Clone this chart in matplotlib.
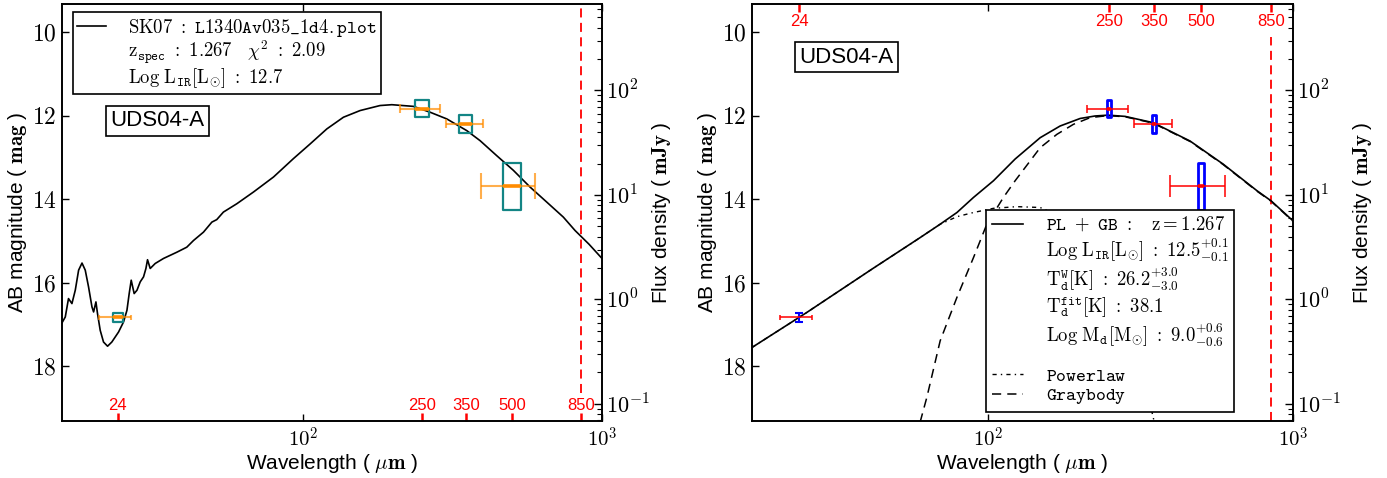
import numpy as np
import matplotlib
matplotlib.use('Agg')
import matplotlib.pyplot as plt
from matplotlib.patches import Rectangle
from matplotlib.lines import Line2D
from matplotlib.ticker import FuncFormatter, NullLocator, NullFormatter, LogLocator

plt.rcParams['font.family'] = ['Liberation Sans', 'DejaVu Sans']
plt.rcParams['mathtext.fontset'] = 'cm'
plt.rcParams['axes.linewidth'] = 1.2

# ---------------- data ----------------
band_wave = [24, 250, 350, 500, 850]
band_labels = ['24', '250', '350', '500', '850']

phot_wave = [24, 250, 350, 500]
phot_mag = [16.83, 11.84, 12.19, 13.69]
phot_mag_bright = [16.72, 11.63, 11.98, 13.13]
phot_mag_faint = [16.95, 12.03, 12.41, 14.27]
phot_wave_lo = [20.8, 211, 300, 394]
phot_wave_hi = [26.5, 287, 400, 597]

# SK07 template (left panel)
sk07_wave = [15.6, 16.0, 16.4, 16.84, 17.28, 17.73, 18.2, 18.66, 19.14, 19.65, 19.9,
             20.26, 20.51, 20.94, 21.48, 22.16, 22.9, 24.12, 25.06, 25.73, 26.18,
             26.59, 27.2, 27.8, 28.5, 29.24, 29.78, 30.15, 30.78, 31.99, 34.1, 37.8,
             40.8, 42.97, 46.4, 49.5, 51.4, 54.1, 60.0, 68.2, 79.6, 92.8, 105.5, 120.0,
             136.4, 155.1, 180.9, 198.0, 233.8, 265.9, 302.4, 352.7, 390.8, 444.4,
             505.0, 574.3, 653.1, 742.3, 812.3, 905, 1000]
sk07_mag = [16.96, 16.82, 16.38, 16.50, 16.18, 15.70, 15.53, 15.70, 16.10, 16.58, 16.70,
            16.46, 16.74, 17.14, 17.42, 17.52, 17.42, 17.18, 16.94, 16.66, 16.26,
            15.94, 16.26, 16.18, 15.98, 15.86, 15.66, 15.45, 15.66, 15.54, 15.42, 15.27,
            15.15, 14.99, 14.79, 14.55, 14.49, 14.31, 14.11, 13.83, 13.47, 13.03, 12.68, 12.32,
            12.04, 11.88, 11.76, 11.74, 11.78, 11.92, 12.08, 12.36, 12.60, 12.96,
            13.31, 13.71, 14.07, 14.43, 14.75, 15.08, 15.42]

# PL + GB fit (right panel)
fit_wave = [16.8, 25.44, 42.07, 59.84, 69.6, 79.0, 89.5, 104.1, 122.6, 148.1, 172.2,
            200.3, 224.3, 247.4, 281.4, 347.5, 459.6, 589.5, 762.1, 847.2, 1000]
fit_mag = [17.55, 16.71, 15.65, 14.92, 14.60, 14.32, 13.96, 13.56, 13.04, 12.53, 12.25,
           12.07, 12.01, 11.99, 12.02, 12.17, 12.61, 13.16, 13.80, 14.04, 14.52]

pl_wave = [16.8, 25.44, 42.07, 56.8, 69.6, 79.0, 89.5, 104.1, 124.2, 148.1, 165.9,
           200.0, 250.0, 300.0, 355.0]
pl_mag = [17.55, 16.71, 15.65, 15.03, 14.60, 14.42, 14.32, 14.22, 14.18, 14.20, 14.36,
          14.75, 15.7, 17.2, 19.5]

gb_wave = [59.8, 62.95, 69.6, 79.0, 89.5, 99.0, 112.2, 122.6, 148.1, 168.0, 190.4,
           216.0, 247.4, 281.4, 347.5, 459.6, 589.5, 762.1, 847.2, 1000]
gb_mag = [19.34, 18.74, 17.39, 16.35, 15.40, 14.60, 13.96, 13.56, 12.77, 12.45, 12.21,
          12.05, 12.00, 12.03, 12.18, 12.62, 13.17, 13.81, 14.05, 14.53]

source_name = 'UDS04-A'

left_legend = [r'$\mathrm{SK07}\ :\ \mathtt{L1340Av035\_1d4.plot}$',
               r'$\mathrm{z}_{\mathtt{spec}}\ :\ \mathsf{1.267}\ \ \ \chi^2\ :\ \mathsf{2.09}$',
               r'$\mathrm{Log\ L}_{\mathtt{IR}}[\mathrm{L}_{\odot}]\ :\ \mathsf{12.7}$']
right_legend = [r'$\mathtt{PL\ +\ GB\ :}\ \ \ \mathrm{z} = 1.267$',
                r'$\mathrm{Log\ L}_{\mathtt{IR}}[\mathrm{L}_{\odot}]\ :\ \mathsf{12.5}^{\mathsf{+0.1}}_{\mathsf{-0.1}}$',
                r'$\mathrm{T}_{\mathtt{d}}^{\mathtt{W}}[\mathrm{K}]\ :\ \mathsf{26.2}^{\mathsf{+3.0}}_{\mathsf{-3.0}}$',
                r'$\mathrm{T}_{\mathtt{d}}^{\mathtt{fit}}[\mathrm{K}]\ :\ \mathsf{38.1}$',
                r'$\mathrm{Log\ M}_{\mathtt{d}}[\mathrm{M}_{\odot}]\ :\ \mathsf{9.0}^{\mathsf{+0.6}}_{\mathsf{-0.6}}$',
                '',
                r'$\mathtt{Powerlaw}$',
                r'$\mathtt{Graybody}$']

# ---------------- helpers ----------------
MAG_LIM = (19.31, 9.33)
ZP = 16.4  # AB mag of 1 mJy


def mag2flux(m):
    return 10 ** ((ZP - m) / 2.5)


def log_fmt(v, pos):
    return r'$10^{%d}$' % int(round(np.log10(v)))


def setup_axes(ax, xlim, flux_pad):
    ax.set_xscale('log')
    ax.set_xlim(*xlim)
    ax.set_ylim(*MAG_LIM)
    ax.set_xticks([100, 1000])
    ax.xaxis.set_major_formatter(FuncFormatter(log_fmt))
    ax.xaxis.set_minor_locator(NullLocator())
    ax.set_yticks([10, 12, 14, 16, 18])
    ax.yaxis.set_major_formatter(FuncFormatter(lambda v, p: r'$%d$' % v))
    ax.tick_params(direction='in', top=True, right=False, length=5, width=1.0)
    ax.tick_params(axis='x', labelsize=15, pad=4)
    ax.tick_params(axis='y', labelsize=17, pad=4)
    ax.set_xlabel(r'Wavelength ( $\mu\mathbf{m}$ )', fontsize=15, labelpad=1)
    ax.set_ylabel(r'AB magnitude ( $\mathbf{mag}$ )', fontsize=15, labelpad=2)

    ax2 = ax.twinx()
    ax2.set_yscale('log')
    ax2.set_ylim(mag2flux(MAG_LIM[0]), mag2flux(MAG_LIM[1]))
    ax2.yaxis.set_major_locator(LogLocator(base=10, numticks=10))
    ax2.yaxis.set_major_formatter(FuncFormatter(log_fmt))
    ax2.yaxis.set_minor_locator(LogLocator(base=10, subs=np.arange(2, 10), numticks=20))
    ax2.yaxis.set_minor_formatter(NullFormatter())
    ax2.tick_params(which='major', direction='in', length=6, width=1.0, labelsize=16, pad=3)
    ax2.tick_params(which='minor', direction='in', length=3.5, width=0.8)
    ax2.set_ylabel(r'Flux density ( $\mathbf{mJy}$ )', fontsize=15, labelpad=flux_pad)
    return ax2


def band_axis(ax, where, pad):
    sec = ax.secondary_xaxis(where)
    sec.set_xticks(band_wave, labels=band_labels)
    sec.xaxis.set_minor_locator(NullLocator())
    sec.tick_params(axis='x', direction='in', length=6, width=1.8, colors='red',
                    labelsize=12, pad=pad)
    for s in sec.spines.values():
        s.set_visible(False)
    return sec


def boxes(ax, idx, half_widths, color, lw, bar_color):
    for i, hw in zip(idx, half_widths):
        w = phot_wave[i]
        x0, x1 = w * 10 ** (-hw), w * 10 ** hw
        ax.add_patch(Rectangle((x0, phot_mag_bright[i]), x1 - x0,
                               phot_mag_faint[i] - phot_mag_bright[i],
                               fill=False, ec=color, lw=lw, joinstyle='round', zorder=4))
        ax.hlines(phot_mag[i], x0, x1, color=bar_color, lw=2.6, zorder=6)


def hbars(ax, color, lw, cap_frac, alpha):
    mag = np.array(phot_mag)
    cap = cap_frac * (np.array(phot_mag_faint) - np.array(phot_mag_bright)) / 2
    ax.hlines(phot_mag, phot_wave_lo, phot_wave_hi, color=color, lw=lw, alpha=alpha, zorder=5)
    ax.vlines(phot_wave_lo, mag - cap, mag + cap, color=color, lw=lw, alpha=alpha, zorder=5)
    ax.vlines(phot_wave_hi, mag - cap, mag + cap, color=color, lw=lw, alpha=alpha, zorder=5)


fig = plt.figure(figsize=(13.87, 4.78), dpi=100)
axL = fig.add_axes([62 / 1387, 57 / 478, 540 / 1387, 417 / 478])
axR = fig.add_axes([752 / 1387, 57 / 478, 541 / 1387, 417 / 478])

leg_kw = dict(fontsize=13.5, fancybox=False, edgecolor='black', framealpha=1,
              handletextpad=1.2, borderaxespad=0)

# ---------------- left panel ----------------
setup_axes(axL, (15.6, 1000), 0)
axL.plot(sk07_wave, sk07_mag, color='black', lw=1.2, zorder=3)
hbars(axL, '#ff8c00', 1.5, 0.55, 0.7)
boxes(axL, [0, 1, 2, 3], [0.0176, 0.0226, 0.0209, 0.0293], '#138585', 1.6, '#ff8c00')
axL.axvline(band_wave[-1], ymin=0.068, ymax=1, color='red', lw=1.3, ls=(0, (5, 3)))
band_axis(axL, 'bottom', -16.5)
handlesL = [Line2D([], [], color='black', lw=1.2),
            Line2D([], [], ls='none'), Line2D([], [], ls='none')]
legL = axL.legend(handlesL, left_legend, loc='upper left', bbox_to_anchor=(0.0198, 0.981),
                  handlelength=1.5, labelspacing=0.0, borderpad=0.25, **leg_kw)
legL.get_frame().set_linewidth(1.2)
axL.text(0.089, 0.72, source_name, transform=axL.transAxes, fontsize=16,
         ha='left', va='center',
         bbox=dict(boxstyle='square,pad=0.2', fc='white', ec='black', lw=1.2))

# ---------------- right panel ----------------
setup_axes(axR, (16.8, 1000), 7)
axR.plot(pl_wave, pl_mag, color='black', lw=1.0, ls=(0, (3, 3, 1, 3)), zorder=2)
axR.plot(gb_wave, gb_mag, color='black', lw=1.1, ls=(0, (6, 4)), zorder=2)
axR.plot(fit_wave, fit_mag, color='black', lw=1.2, zorder=3)
boxes(axR, [1, 2, 3], [0.0066, 0.0055, 0.0103], 'blue', 2.0, 'red')
axR.errorbar(phot_wave[0], phot_mag[0],
             yerr=[[phot_mag[0] - phot_mag_bright[0]], [phot_mag_faint[0] - phot_mag[0]]],
             fmt='none', ecolor='blue', elinewidth=1.5, capsize=3, capthick=1.5, zorder=4)
hbars(axR, 'red', 1.3, 0.45, 0.85)
axR.axvline(band_wave[-1], ymin=0, ymax=0.92, color='red', lw=1.3, ls=(0, (5, 3)))
band_axis(axR, 'top', -18)
handlesR = [Line2D([], [], color='black', lw=1.2)] + \
           [Line2D([], [], ls='none') for _ in range(5)] + \
           [Line2D([], [], color='black', lw=1.0, ls=(0, (3, 3, 1, 3))),
            Line2D([], [], color='black', lw=1.1, ls=(0, (6, 4)))]
legR = axR.legend(handlesR, right_legend, loc='lower left', bbox_to_anchor=(0.4325, 0.0216),
                  handlelength=1.7, labelspacing=0.12, borderpad=0.3, **leg_kw)
legR.get_texts()[5].set_fontsize(2)
legR.get_frame().set_linewidth(1.2)
axR.text(0.087, 0.872, source_name, transform=axR.transAxes, fontsize=16,
         ha='left', va='center',
         bbox=dict(boxstyle='square,pad=0.2', fc='white', ec='black', lw=1.2))

fig.savefig('out.png', dpi=100)
